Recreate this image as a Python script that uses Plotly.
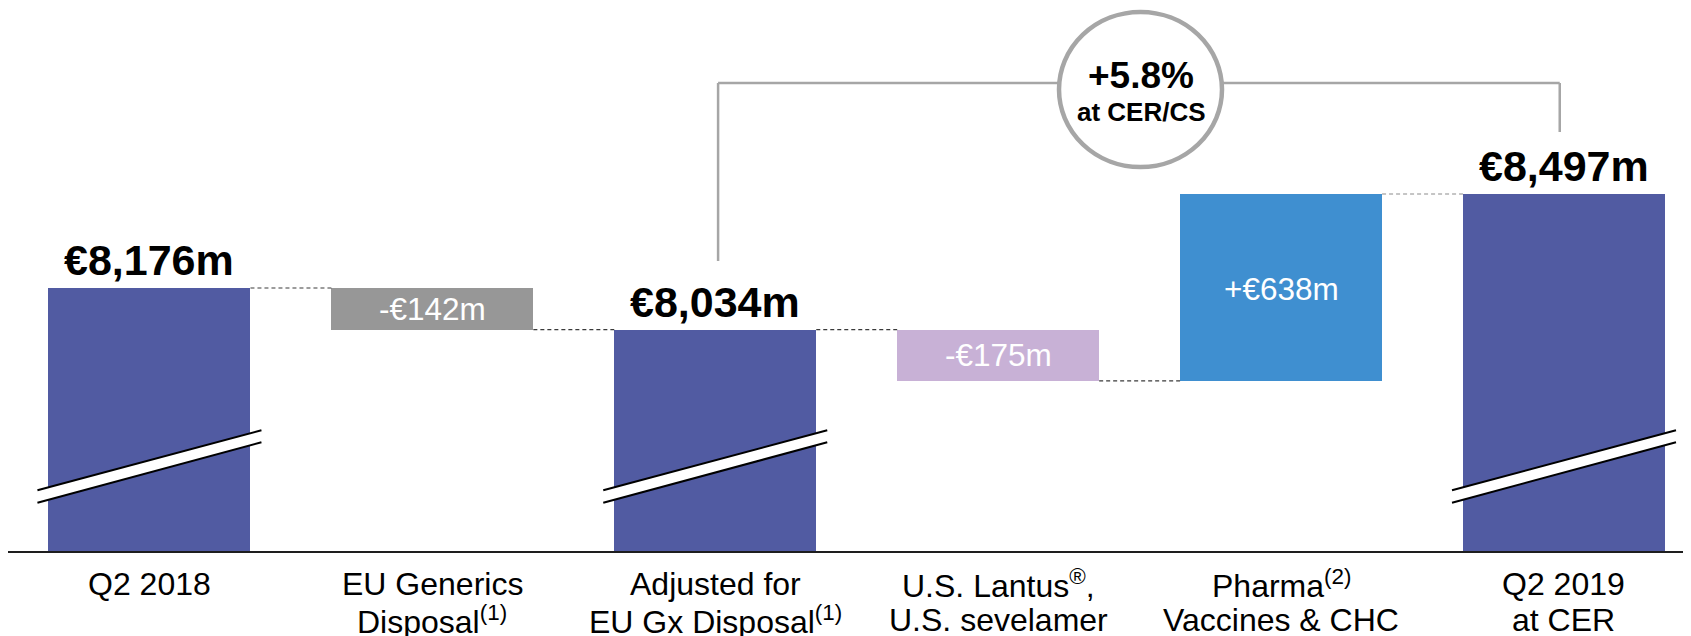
import plotly.graph_objects as go

# ---------------- data ----------------
categories = ["Q2 2018", "EU Generics Disposal", "Adjusted for EU Gx Disposal",
              "U.S. Lantus, U.S. sevelamer", "Pharma, Vaccines & CHC", "Q2 2019 at CER"]
label_line1 = ["Q2 2018", "EU Generics", "Adjusted for",
               "U.S. Lantus<sup>®</sup>,", "Pharma<sup>(2)</sup>", "Q2 2019"]
label_line2 = ["", "Disposal<sup>(1)</sup>", "EU Gx Disposal<sup>(1)</sup>",
               "U.S. sevelamer", "Vaccines & CHC", "at CER"]
values = [8176, -142, 8034, -175, 638, 8497]
measures = ["total", "relative", "total", "relative", "relative", "total"]
value_text = ["€8,176m", "-€142m", "€8,034m", "-€175m", "+€638m", "€8,497m"]
bar_colors = ["#515BA2", "#979797", "#515BA2", "#C8B1D6", "#3F8FD0", "#515BA2"]
growth_text = "+5.8%"
growth_sub = "at CER/CS"

# ---------------- layout constants ----------------
PAGE_OFF = 8               # default body margin of the html page
W, H = 1691 - PAGE_OFF, 636 - PAGE_OFF
AXIS_PAGE_Y = 551          # page pixel row of the x axis line
PLOT_H = AXIS_PAGE_Y - PAGE_OFF
AXIS_FLOOR = 7278          # broken axis: value shown at the axis line
Y_TOP = 9132
BAR_W = 0.714
FONT = "Liberation Sans, Arial, sans-serif"


def py(px):
    """page pixel row -> paper y"""
    return (AXIS_PAGE_Y - px) / PLOT_H


def pxx(px):
    """page pixel column -> paper x"""
    return (px - PAGE_OFF) / W


# ---------------- bar geometry from data ----------------
bases, heights, ends = [], [], []
level = 0
for v, m in zip(values, measures):
    if m == "total":
        bases.append(AXIS_FLOOR)
        heights.append(v - AXIS_FLOOR)
        level = v
    else:
        new = level + v
        bases.append(min(level, new))
        heights.append(abs(v))
        level = new
    ends.append(level)

xs = list(range(len(categories)))

fig = go.Figure()
fig.add_trace(go.Bar(
    x=xs, y=heights, base=bases, width=BAR_W,
    marker=dict(color=bar_colors, line=dict(width=0)),
    hoverinfo="skip", showlegend=False,
))

shapes = []
annotations = []

# connectors
for i in range(len(xs) - 1):
    col = "#8C8C8C" if i == len(xs) - 2 else "#3A3A3A"
    shapes.append(dict(type="line", xref="x", yref="y",
                       x0=xs[i] + BAR_W / 2, x1=xs[i + 1] - BAR_W / 2,
                       y0=ends[i], y1=ends[i],
                       line=dict(color=col, width=1.2, dash="4px,3px")))

# break marks on total bars
for i, m in enumerate(measures):
    if m != "total":
        continue
    shapes.append(dict(type="path", xref="x", yref="y",
                       xsizemode="pixel", ysizemode="pixel",
                       xanchor=xs[i], yanchor=AXIS_FLOOR,
                       path="M -112,60.7 L 112,120.7 L 112,108.7 L -112,48.3 Z",
                       fillcolor="white", line=dict(width=0)))
    for (ya, yb) in [(60.7, 120.7), (48.3, 108.7)]:
        shapes.append(dict(type="line", xref="x", yref="y",
                           xsizemode="pixel", ysizemode="pixel",
                           xanchor=xs[i], yanchor=AXIS_FLOOR,
                           x0=-112, x1=112, y0=ya, y1=yb,
                           line=dict(color="black", width=2)))

# growth bracket
gray = "#A6A6A6"
shapes.append(dict(type="line", xref="x", yref="paper", x0=2.01, x1=2.01,
                   y0=py(261), y1=py(83), line=dict(color=gray, width=2.5)))
shapes.append(dict(type="line", xref="x", yref="paper", x0=4.985, x1=4.985,
                   y0=py(132), y1=py(83), line=dict(color=gray, width=2.5)))
shapes.append(dict(type="line", xref="x", yref="paper", x0=2.01, x1=4.985,
                   y0=py(83), y1=py(83), line=dict(color=gray, width=2.5)))
shapes.append(dict(type="circle", xref="paper", yref="paper",
                   x0=pxx(1059), x1=pxx(1222), y0=py(167), y1=py(12),
                   fillcolor="white", line=dict(color=gray, width=4.5)))

# value labels
for i, m in enumerate(measures):
    if m == "total":
        annotations.append(dict(x=xs[i], y=ends[i], xref="x", yref="y",
                                text=value_text[i], showarrow=False,
                                yanchor="middle", xanchor="center", yshift=28,
                                borderpad=0, borderwidth=0,
                                font=dict(family=FONT, size=43, color="black", weight="bold")))
    else:
        mid = bases[i] + heights[i] / 2
        annotations.append(dict(x=xs[i], y=mid, xref="x", yref="y",
                                text=value_text[i], showarrow=False,
                                yanchor="middle", xanchor="center",
                                yshift=-2 if values[i] > 0 else 0,
                                borderpad=0, borderwidth=0,
                                font=dict(family=FONT, size=31.5, color="white")))

# category labels (two lines each)
for i in xs:
    for txt, off in [(label_line1[i], 32.5), (label_line2[i], 68.5)]:
        if not txt:
            continue
        annotations.append(dict(x=xs[i], y=0, xref="x", yref="paper",
                                text=txt, showarrow=False, yanchor="middle",
                                xanchor="center", yshift=-off,
                                borderpad=0, borderwidth=0,
                                font=dict(family=FONT, size=32, color="black")))

# growth text
annotations.append(dict(x=pxx(1141), y=py(75.5), xref="paper", yref="paper",
                        text=growth_text, showarrow=False, yanchor="middle",
                        xanchor="center", borderpad=0, borderwidth=0,
                        font=dict(family=FONT, size=37, color="black", weight="bold")))
annotations.append(dict(x=pxx(1141), y=py(112), xref="paper", yref="paper",
                        text=growth_sub, showarrow=False, yanchor="middle",
                        xanchor="center", borderpad=0, borderwidth=0,
                        font=dict(family=FONT, size=26, color="black", weight="bold")))

fig.update_layout(
    width=W, height=H,
    margin=dict(l=0, r=0, t=0, b=H - PLOT_H, pad=0),
    paper_bgcolor="white", plot_bgcolor="white",
    xaxis=dict(range=[-0.500, 5.449], showgrid=False, zeroline=False,
               showticklabels=False, ticks="", showline=True,
               linecolor="#1E1E1E", linewidth=2, fixedrange=True),
    yaxis=dict(range=[AXIS_FLOOR, Y_TOP], visible=False, showgrid=False,
               zeroline=False, fixedrange=True),
    shapes=shapes, annotations=annotations,
    bargap=0, showlegend=False,
)

fig.write_html("out.html", config={"displayModeBar": False})
